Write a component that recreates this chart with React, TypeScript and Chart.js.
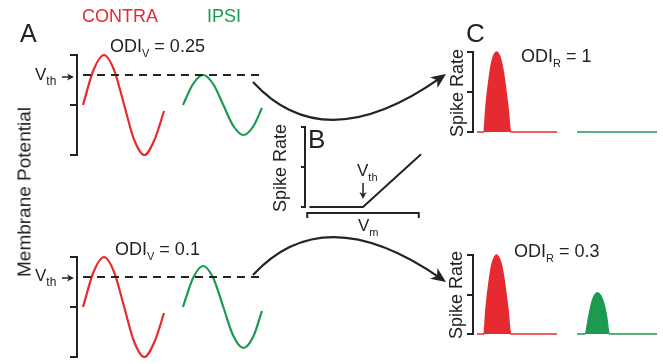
import React, { useEffect, useRef } from "react";
import { Chart, registerables } from "chart.js";

Chart.register(...registerables);

const RED = "#e62b30";
const GREEN = "#1c9a50";
const INK = "#232323";
const FONT = '"Liberation Sans", Arial, sans-serif';

// ---------- Panel A: membrane potential (rest = 0, contra amplitude = 1), time in ms ----------
const V_THRESHOLD = 0.6;
const aTimeRange = [-1.43, 43.33];
const aTicks = [-1, 0, 1];
const thresholdTime = [0, 43.3];
const thresholdV = [V_THRESHOLD, V_THRESHOLD];
const contraTime = [0, 2.5, 5, 7.4, 9.8, 12.2, 14.6, 17, 19.3];
const contraTopV = [0, 0.7, 1, 0.7, 0, -0.7, -1, -0.7, -0.12];
const contraBottomV = [0, 0.7, 1, 0.7, 0, -0.7, -1, -0.7, -0.12];
const ipsiTime = [23.8, 26.2, 28.6, 31, 33.4, 35.8, 38.2, 40.6, 42.6];
const ipsiTopV = [0, 0.42, 0.6, 0.42, 0, -0.42, -0.6, -0.42, -0.06];
const ipsiBottomV = [0, 0.58, 0.82, 0.58, 0, -0.58, -0.82, -0.58, -0.08];

// ---------- Panel B: spike rate vs membrane potential ----------
const bVmRange = [-0.02, 1.02];
const bTicks = [0, 0.5, 1];
const bBracket = [0, 1];
const bVm = [0.02, 0.5, 1.02];
const bRate = [0, 0, 0.66];

// ---------- Panel C: spike rate responses, time in ms ----------
const cTimeRange = [-1, 45.75];
const cTicks = [0, 0.5, 1];
const cContraTime = [0, 1.75, 2.25, 3.25, 3.9, 4.9, 5.9, 6.6, 7.7, 8.4, 20];
const cContraTopRate = [0, 0, 0.32, 0.74, 0.91, 1, 0.91, 0.74, 0.32, 0, 0];
const cContraBottomRate = [0, 0, 0.32, 0.74, 0.91, 1, 0.91, 0.74, 0.32, 0, 0];
const cIpsiTopTime = [25, 45];
const cIpsiTopRate = [0, 0];
const cIpsiBottomTime = [25, 27, 28.1, 28.9, 30.1, 31.4, 32.25, 33.1, 45];
const cIpsiBottomRate = [0, 0, 0.26, 0.43, 0.52, 0.43, 0.26, 0, 0];

const pts = (xs: number[], ys: number[]) => xs.map((x, i) => ({ x, y: ys[i] }));

function yBracket(min: number, max: number, ticks: number[], tickLen: number) {
  return {
    type: "linear",
    position: "left",
    min,
    max,
    afterBuildTicks: (s: any) => {
      s.ticks = ticks.map((v) => ({ value: v }));
    },
    afterFit: (s: any) => {
      s.width = tickLen;
    },
    ticks: { display: false },
    grid: {
      display: true,
      drawOnChartArea: false,
      drawTicks: true,
      tickLength: tickLen,
      color: INK,
      lineWidth: 2,
    },
    border: { display: true, color: INK, width: 2 },
  };
}

function baseOptions(padding: any, xRange: number[], y: any) {
  return {
    responsive: false,
    maintainAspectRatio: false,
    animation: false,
    events: [],
    layout: { padding },
    plugins: { legend: { display: false }, tooltip: { enabled: false } },
    elements: { point: { radius: 0 } },
    scales: {
      x: { type: "linear", display: false, min: xRange[0], max: xRange[1] },
      y,
    },
  };
}

function configA(contraV: number[], ipsiV: number[], padTop: number, padBottom: number) {
  return {
    type: "line",
    data: {
      datasets: [
        {
          data: pts(thresholdTime, thresholdV),
          borderColor: INK,
          borderWidth: 2,
          borderDash: [8, 6],
          clip: false,
        },
        {
          data: pts(contraTime, contraV),
          borderColor: RED,
          borderWidth: 2.2,
          cubicInterpolationMode: "monotone",
          clip: false,
        },
        {
          data: pts(ipsiTime, ipsiV),
          borderColor: GREEN,
          borderWidth: 2.2,
          cubicInterpolationMode: "monotone",
          clip: false,
        },
      ],
    },
    options: baseOptions(
      { top: padTop, bottom: padBottom, left: 0, right: 5 },
      aTimeRange,
      yBracket(-1, 1, aTicks, 7)
    ),
  };
}

const xBracketPlugin = {
  id: "xBracket",
  afterDraw(chart: any) {
    const { ctx, chartArea, scales } = chart;
    const x0 = scales.x.getPixelForValue(bBracket[0]);
    const x1 = scales.x.getPixelForValue(bBracket[1]);
    const y = chartArea.bottom + 6;
    ctx.save();
    ctx.strokeStyle = INK;
    ctx.lineWidth = 2;
    ctx.beginPath();
    ctx.moveTo(x0, y + 5);
    ctx.lineTo(x0, y);
    ctx.lineTo(x1, y);
    ctx.lineTo(x1, y + 5);
    ctx.stroke();
    ctx.restore();
  },
};

function configB() {
  return {
    type: "line",
    data: {
      datasets: [
        {
          data: pts(bVm, bRate),
          borderColor: INK,
          borderWidth: 2,
          tension: 0,
          clip: false,
        },
      ],
    },
    options: baseOptions(
      { top: 10, bottom: 14, left: 0, right: 4 },
      bVmRange,
      yBracket(0, 1, bTicks, 4)
    ),
    plugins: [xBracketPlugin],
  };
}

function configC(contraRate: number[], ipsiT: number[], ipsiRate: number[], padTop: number, padBottom: number) {
  return {
    type: "line",
    data: {
      datasets: [
        {
          data: pts(cContraTime, contraRate),
          borderColor: RED,
          backgroundColor: RED,
          borderWidth: 1.6,
          fill: "origin",
          cubicInterpolationMode: "monotone",
          clip: false,
        },
        {
          data: pts(ipsiT, ipsiRate),
          borderColor: GREEN,
          backgroundColor: GREEN,
          borderWidth: 1.6,
          fill: "origin",
          cubicInterpolationMode: "monotone",
          clip: false,
        },
      ],
    },
    options: baseOptions(
      { top: padTop, bottom: padBottom, left: 0, right: 3 },
      cTimeRange,
      yBracket(0, 1, cTicks, 6)
    ),
  };
}

function arrowHead(ctx: CanvasRenderingContext2D, tx: number, ty: number, ang: number, len: number, half: number) {
  const c = Math.cos(ang);
  const s = Math.sin(ang);
  const bx = tx - len * c;
  const by = ty - len * s;
  const nx = -s;
  const ny = c;
  const mx = tx - len * 0.72 * c;
  const my = ty - len * 0.72 * s;
  ctx.beginPath();
  ctx.moveTo(tx, ty);
  ctx.lineTo(bx + nx * half, by + ny * half);
  ctx.lineTo(mx, my);
  ctx.lineTo(bx - nx * half, by - ny * half);
  ctx.closePath();
  ctx.fill();
}

function curvedArrow(ctx: CanvasRenderingContext2D, p0: number[], c: number[], p2: number[]) {
  const ang = Math.atan2(p2[1] - c[1], p2[0] - c[0]);
  ctx.beginPath();
  ctx.moveTo(p0[0], p0[1]);
  ctx.quadraticCurveTo(c[0], c[1], p2[0] - 6 * Math.cos(ang), p2[1] - 6 * Math.sin(ang));
  ctx.stroke();
  arrowHead(ctx, p2[0], p2[1], ang, 15, 6.5);
}

function straightArrow(ctx: CanvasRenderingContext2D, x0: number, y0: number, x1: number, y1: number) {
  const ang = Math.atan2(y1 - y0, x1 - x0);
  ctx.beginPath();
  ctx.moveTo(x0, y0);
  ctx.lineTo(x1 - 4 * Math.cos(ang), y1 - 4 * Math.sin(ang));
  ctx.stroke();
  arrowHead(ctx, x1, y1, ang, 7, 3.5);
}

function drawOverlay(canvas: HTMLCanvasElement) {
  const ctx = canvas.getContext("2d");
  if (!ctx) return;
  ctx.clearRect(0, 0, canvas.width, canvas.height);
  ctx.strokeStyle = INK;
  ctx.fillStyle = INK;
  ctx.lineCap = "butt";
  ctx.lineWidth = 2.2;
  curvedArrow(ctx, [253, 82], [324.5, 160], [446, 74]);
  curvedArrow(ctx, [253, 275], [324.5, 197.5], [446, 282]);
  ctx.lineWidth = 1.5;
  straightArrow(ctx, 62, 77, 74, 77);
  straightArrow(ctx, 62, 278, 74, 278);
  straightArrow(ctx, 363, 183, 363, 199);
}

const ASC = 0.8465;

function Label({ x, base, size, color = INK, children }: any) {
  return (
    <div
      style={{
        position: "absolute",
        left: x,
        top: base - ASC * size,
        fontSize: size,
        lineHeight: 1,
        color,
        whiteSpace: "nowrap",
      }}
    >
      {children}
    </div>
  );
}

function Sub({ children, size = 11, drop = 5 }: any) {
  return (
    <span style={{ fontSize: size, position: "relative", top: drop }}>{children}</span>
  );
}

function VLabel({ cx, cy, size, children }: any) {
  return (
    <div
      style={{
        position: "absolute",
        left: cx,
        top: cy,
        fontSize: size,
        lineHeight: 1,
        color: INK,
        whiteSpace: "nowrap",
        transform: "translate(-50%, -50%) rotate(-90deg)",
      }}
    >
      {children}
    </div>
  );
}

const abs = (left: number, top: number, width: number, height: number): React.CSSProperties => ({
  position: "absolute",
  left,
  top,
  width,
  height,
});

export default function App() {
  const aTop = useRef<HTMLCanvasElement>(null);
  const aBottom = useRef<HTMLCanvasElement>(null);
  const bRef = useRef<HTMLCanvasElement>(null);
  const cTop = useRef<HTMLCanvasElement>(null);
  const cBottom = useRef<HTMLCanvasElement>(null);
  const overlay = useRef<HTMLCanvasElement>(null);

  useEffect(() => {
    const charts: Chart[] = [
      new Chart(aTop.current as any, configA(contraTopV, ipsiTopV, 10, 10) as any),
      new Chart(aBottom.current as any, configA(contraBottomV, ipsiBottomV, 10, 7) as any),
      new Chart(bRef.current as any, configB() as any),
      new Chart(cTop.current as any, configC(cContraTopRate, cIpsiTopTime, cIpsiTopRate, 10, 8) as any),
      new Chart(cBottom.current as any, configC(cContraBottomRate, cIpsiBottomTime, cIpsiBottomRate, 10, 8) as any),
    ];
    if (overlay.current) drawOverlay(overlay.current);
    return () => charts.forEach((c) => c.destroy());
  }, []);

  return (
    <div
      style={{
        position: "fixed",
        left: 0,
        top: 0,
        width: 663,
        height: 364,
        background: "#fff",
        overflow: "hidden",
        fontFamily: FONT,
      }}
    >
      <canvas ref={aTop} width={200} height={120} style={abs(70, 45, 200, 120)} />
      <canvas ref={aBottom} width={200} height={117} style={abs(70, 247, 200, 117)} />
      <canvas ref={bRef} width={124} height={104} style={abs(301, 117, 124, 104)} />
      <canvas ref={cTop} width={196} height={98} style={abs(467, 42, 196, 98)} />
      <canvas ref={cBottom} width={196} height={97} style={abs(467, 245, 196, 97)} />
      <canvas
        ref={overlay}
        width={663}
        height={364}
        style={{ ...abs(0, 0, 663, 364), pointerEvents: "none" }}
      />

      <Label x={20} base={42} size={25}>A</Label>
      <Label x={82} base={22} size={18} color={RED}>CONTRA</Label>
      <Label x={207} base={22} size={18} color={GREEN}>IPSI</Label>
      <Label x={110} base={52} size={18}>
        ODI<Sub>V</Sub> = 0.25
      </Label>
      <Label x={35} base={80} size={17}>
        V<Sub size={12} drop={5}>th</Sub>
      </Label>
      <VLabel cx={24} cy={192} size={19}>Membrane Potential</VLabel>
      <Label x={115} base={255} size={18}>
        ODI<Sub>V</Sub> = 0.1
      </Label>
      <Label x={35} base={281} size={17}>
        V<Sub size={12} drop={5}>th</Sub>
      </Label>

      <Label x={308} base={148} size={26}>B</Label>
      <VLabel cx={280} cy={167.5} size={18}>Spike Rate</VLabel>
      <Label x={357} base={176} size={17}>
        V<Sub size={11} drop={5}>th</Sub>
      </Label>
      <Label x={358} base={231} size={17}>
        V<Sub size={11} drop={5}>m</Sub>
      </Label>

      <Label x={466} base={42} size={26}>C</Label>
      <VLabel cx={456.5} cy={93} size={18}>Spike Rate</VLabel>
      <VLabel cx={456} cy={295} size={18}>Spike Rate</VLabel>
      <Label x={521} base={62} size={18}>
        ODI<Sub>R</Sub> = 1
      </Label>
      <Label x={514} base={257} size={18}>
        ODI<Sub>R</Sub> = 0.3
      </Label>
    </div>
  );
}
